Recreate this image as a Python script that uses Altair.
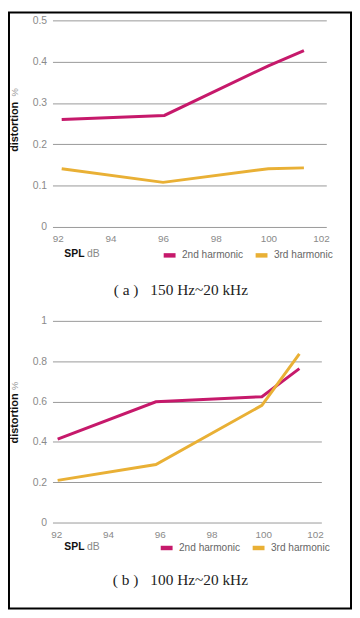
import altair as alt
import pandas as pd

series = ["2nd harmonic", "3rd harmonic"]
colors = ["#c6196b", "#e9b035"]

# Panel (a) 150 Hz~20 kHz
a_spl_2nd = [92.15, 96.05, 100.0, 101.35]
a_dist_2nd = [0.26, 0.27, 0.39, 0.427]
a_spl_3rd = [92.15, 96.0, 100.0, 101.35]
a_dist_3rd = [0.141, 0.108, 0.141, 0.143]

# Panel (b) 100 Hz~20 kHz
b_spl_2nd = [92.05, 95.85, 99.95, 101.4]
b_dist_2nd = [0.414, 0.599, 0.624, 0.763]
b_spl_3rd = [92.05, 95.85, 99.95, 101.4]
b_dist_3rd = [0.209, 0.288, 0.581, 0.836]

x_ticks = [92, 94, 96, 98, 100, 102]
a_y_ticks = [0, 0.1, 0.2, 0.3, 0.4, 0.5]
b_y_ticks = [0, 0.2, 0.4, 0.6, 0.8, 1]

caption_tags = ["( a )", "( b )"]
caption_bands = ["150 Hz~20 kHz", "100 Hz~20 kHz"]

SANS = "Liberation Sans"
SERIF = "Liberation Serif"
GREY = "#8a8a8a"


def frame_df(s2x, s2y, s3x, s3y):
    rows = []
    for x, y in zip(s2x, s2y):
        rows.append({"spl": x, "dist": y, "series": series[0]})
    for x, y in zip(s3x, s3y):
        rows.append({"spl": x, "dist": y, "series": series[1]})
    return pd.DataFrame(rows)


def label(text, x, y, **kw):
    return alt.Chart(pd.DataFrame({"t": [text]})).mark_text(**kw).encode(
        text="t:N", x=alt.value(x), y=alt.value(y)
    )


def panel(df, xdom, ydom, yticks, w, h, legx, legy, title_bottom, pct_gap,
          tag, band, tagx, bandx, capy, spl_y):
    lines = alt.Chart(df).mark_line(strokeWidth=3).encode(
        x=alt.X(
            "spl:Q",
            scale=alt.Scale(domain=xdom, nice=False, zero=False),
            axis=alt.Axis(
                values=x_ticks, grid=False, domain=False, ticks=False,
                labelColor=GREY, labelFont=SANS, labelFontSize=10,
                labelPadding=7, title=None,
            ),
        ),
        y=alt.Y(
            "dist:Q",
            scale=alt.Scale(domain=ydom, nice=False),
            axis=alt.Axis(
                values=yticks, format="~g", grid=True, gridColor="#999999",
                gridWidth=1, domain=False, ticks=False, labelColor=GREY,
                labelFont=SANS, labelFontSize=10.5, labelPadding=6, title=None,
            ),
        ),
        color=alt.Color(
            "series:N",
            scale=alt.Scale(domain=series, range=colors),
            legend=alt.Legend(
                orient="none", legendX=legx, legendY=legy,
                direction="horizontal", title=None, symbolType="stroke",
                symbolSize=144, symbolStrokeWidth=4.5, labelFont=SANS,
                labelFontSize=10.2, labelColor="#666666", labelOffset=4,
                columnPadding=3, padding=0,
            ),
        ),
    )
    t1 = label("distortion", -38, title_bottom, angle=270, align="left",
               baseline="middle", font=SANS, fontSize=11, fontWeight="bold",
               color="#111111")
    t2 = label("%", -38, title_bottom - pct_gap, angle=270, align="left",
               baseline="middle", font=SANS, fontSize=9.5, color="#999999")
    s1 = label("SPL", 12, spl_y, align="left", baseline="middle", font=SANS,
               fontSize=10.5, fontWeight="bold", color="#111111")
    s2 = label("dB", 35, spl_y, align="left", baseline="middle", font=SANS,
               fontSize=10.5, color="#888888")
    c1 = label(tag, tagx, capy, align="left", baseline="middle", font=SERIF,
               fontSize=15.5, color="#222222")
    c2 = label(band, bandx, capy, align="left", baseline="middle", font=SERIF,
               fontSize=15.5, color="#222222")
    return [lines, t1, t2, s1, s2, c1, c2], w, h


a_df = frame_df(a_spl_2nd, a_dist_2nd, a_spl_3rd, a_dist_3rd)
b_df = frame_df(b_spl_2nd, b_dist_2nd, b_spl_3rd, b_dist_3rd)

a_layers, aw, ah = panel(a_df, [91.8, 102.2], [0, 0.5], a_y_ticks, 277, 209,
                         110, 229, 133, 56, caption_tags[0], caption_bands[0],
                         62, 99, 273, 236)
b_layers, bw, bh = panel(b_df, [91.85, 102.25], [0, 1], b_y_ticks, 272, 204,
                         107, 221, 124, 54, caption_tags[1], caption_bands[1],
                         61, 99, 262, 229)

border = alt.Chart(pd.DataFrame({"k": [0]})).mark_rect(
    filled=False, stroke="#000000", strokeWidth=2
).encode(x=alt.value(-44), x2=alt.value(302), y=alt.value(-8), y2=alt.value(595))

top = alt.layer(*a_layers, border).properties(width=aw, height=ah)
bottom = alt.layer(*b_layers).properties(width=bw, height=bh)

chart = (
    alt.vconcat(top, bottom, spacing=95, bounds="flush")
    .resolve_scale(color="independent")
    .resolve_legend(color="independent")
    .properties(padding=0, background="white")
    .configure_view(strokeWidth=0)
)

chart.save("out.html", embed_options={"renderer": "svg", "actions": False})
